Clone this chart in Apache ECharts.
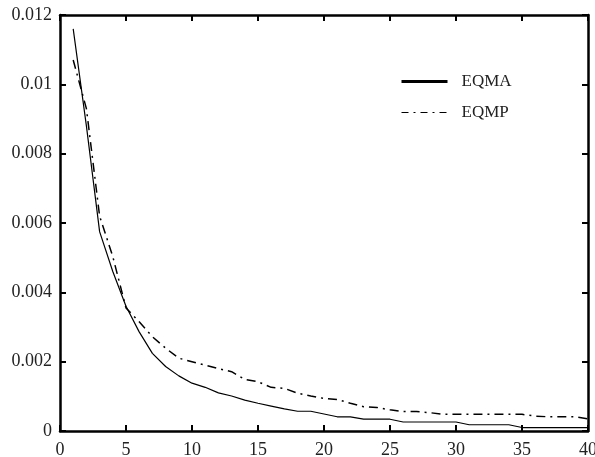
<!DOCTYPE html>
<html>
<head>
<meta charset="utf-8">
<script src="https://cdn.jsdelivr.net/npm/echarts@6/dist/echarts.min.js"></script>
<style>
  html, body { margin: 0; padding: 0; background: #fff; }
  #chart { width: 595px; height: 457px; }
</style>
</head>
<body>
<div id="chart"></div>
<script>
// valeurs lues sur la figure, pas n = 1..40
const steps = Array.from({ length: 40 }, (_, i) => i + 1);
const eqma = [
    0.0116, 0.0088, 0.00575, 0.0046, 0.0036, 0.00286, 0.00224, 0.00186, 0.00159, 0.00138,
    0.00126, 0.0011, 0.00101, 0.00089, 0.0008, 0.00072, 0.00064, 0.00057, 0.00057, 0.00049,
    0.00041, 0.00041, 0.00034, 0.00034, 0.00034, 0.00026, 0.00026, 0.00026, 0.00026, 0.00026,
    0.00018, 0.00018, 0.00018, 0.00018, 0.0001, 0.0001, 0.0001, 0.0001, 0.0001, 0.0001
];
const eqmp = [
    0.0107, 0.0093, 0.0062, 0.00503, 0.00355, 0.00315, 0.00272, 0.00239, 0.0021, 0.002,
    0.0019, 0.0018, 0.00171, 0.00149, 0.00142, 0.00126, 0.00123, 0.00109, 0.00101, 0.00094,
    0.00091, 0.0008, 0.0007, 0.00068, 0.00061, 0.00056, 0.00056, 0.00053, 0.00048, 0.00048,
    0.00048, 0.00048, 0.00048, 0.00048, 0.00048, 0.00043, 0.00041, 0.00041, 0.00041, 0.00035
];
const seriesNames = ['EQMA', 'EQMP'];

const font = 'Liberation Serif';
const textColor = '#222';

const axisLine = { show: true, onZero: false, lineStyle: { color: '#000', width: 2.5 } };
const axisTick = { show: true, inside: true, length: 6, lineStyle: { color: '#000', width: 2 } };
// pas de symbole dans la légende
const noSymbol = { color: 'transparent', borderWidth: 0 };

const option = {
    animation: false,
    grid: { left: 60, top: 15, right: 7, bottom: 26, outerBoundsMode: 'none' },
    legend: {
        orient: 'vertical',
        left: 395,
        top: 68,
        itemWidth: 46,
        itemHeight: 14,
        itemGap: 14,
        textStyle: { fontFamily: font, fontSize: 17, color: textColor, padding: [0, 0, 0, 9] },
        data: [
            { name: 'EQMA', itemStyle: noSymbol, lineStyle: { width: 3 } },
            { name: 'EQMP', itemStyle: noSymbol, lineStyle: { width: 1, type: [7, 5, 2, 5] } }
        ]
    },
    xAxis: [
        {
            type: 'value', min: 0, max: 40, interval: 5,
            axisLine, axisTick, splitLine: { show: false },
            axisLabel: { fontFamily: font, fontSize: 18, color: textColor, margin: 10 }
        },
        {
            type: 'value', position: 'top', min: 0, max: 40, interval: 5,
            axisLine, axisTick, splitLine: { show: false }, axisLabel: { show: false }
        }
    ],
    yAxis: [
        {
            type: 'value', min: 0, max: 0.012, interval: 0.002,
            axisLine, axisTick, splitLine: { show: false },
            axisLabel: { fontFamily: font, fontSize: 18, color: textColor, margin: 8 }
        },
        {
            type: 'value', position: 'right', min: 0, max: 0.012, interval: 0.002,
            axisLine, axisTick, splitLine: { show: false }, axisLabel: { show: false }
        }
    ],
    series: [
        {
            name: seriesNames[0],
            type: 'line',
            symbol: 'none',
            data: steps.map((n, i) => [n, eqma[i]]),
            lineStyle: { color: '#000', width: 1.2 },
            itemStyle: { color: '#000' }
        },
        {
            name: seriesNames[1],
            type: 'line',
            symbol: 'none',
            data: steps.map((n, i) => [n, eqmp[i]]),
            lineStyle: { color: '#000', width: 1.5, type: [9, 5, 2, 5] },
            itemStyle: { color: '#000' }
        }
    ]
};

const myChart = echarts.init(document.getElementById('chart'));
myChart.setOption(option);
</script>
</body>
</html>
